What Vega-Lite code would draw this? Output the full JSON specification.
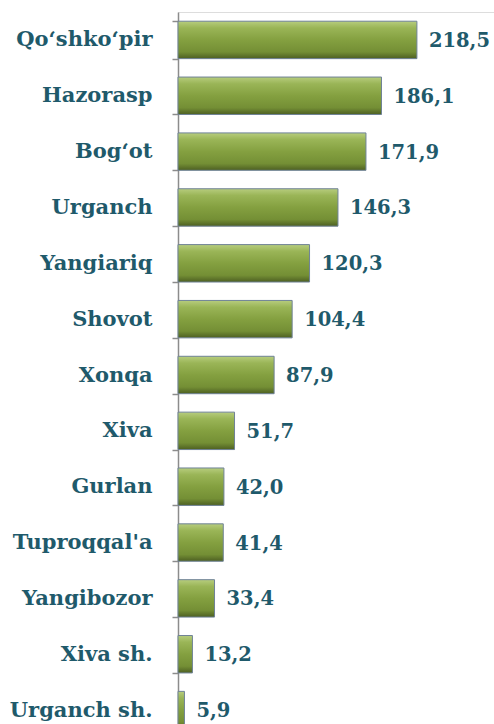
{
  "$schema": "https://vega.github.io/schema/vega-lite/v6.json",
  "autosize": "none",
  "padding": {"left": 178, "top": 12, "right": 0, "bottom": 0},
  "width": 316,
  "height": 726,
  "background": "white",
  "data": {"values": [
    {"district": "Qo‘shko‘pir", "value": 218.5, "label": "218,5"},
    {"district": "Hazorasp", "value": 186.1, "label": "186,1"},
    {"district": "Bog‘ot", "value": 171.9, "label": "171,9"},
    {"district": "Urganch", "value": 146.3, "label": "146,3"},
    {"district": "Yangiariq", "value": 120.3, "label": "120,3"},
    {"district": "Shovot", "value": 104.4, "label": "104,4"},
    {"district": "Xonqa", "value": 87.9, "label": "87,9"},
    {"district": "Xiva", "value": 51.7, "label": "51,7"},
    {"district": "Gurlan", "value": 42.0, "label": "42,0"},
    {"district": "Tuproqqal'a", "value": 41.4, "label": "41,4"},
    {"district": "Yangibozor", "value": 33.4, "label": "33,4"},
    {"district": "Xiva sh.", "value": 13.2, "label": "13,2"},
    {"district": "Urganch sh.", "value": 5.9, "label": "5,9"}
  ]},
  "encoding": {
    "y": {"field": "district", "type": "nominal", "sort": null,
      "scale": {"paddingInner": 0.33, "paddingOuter": 0.165},
      "axis": {"title": null, "domain": true, "domainColor": "#8c8c8c", "domainWidth": 1.5,
        "ticks": true, "tickBand": "extent", "tickColor": "#8c8c8c", "tickSize": 6, "tickWidth": 1.5,
        "labelPadding": 20, "labelFont": "DejaVu Serif", "labelFontSize": 21, "labelFontWeight": "bold",
        "labelColor": "#1f5a6b", "labelLimit": 0}},
    "x": {"field": "value", "type": "quantitative", "scale": {"domain": [0, 289]}, "axis": null}
  },
  "layer": [
    {"mark": {"type": "bar", "stroke": "#6f8296", "strokeWidth": 1,
      "color": {"gradient": "linear", "x1": 0, "y1": 0, "x2": 0, "y2": 1,
        "stops": [
          {"offset": 0, "color": "#b7cd7e"},
          {"offset": 0.18, "color": "#9ab557"},
          {"offset": 0.5, "color": "#84a040"},
          {"offset": 0.82, "color": "#748f35"},
          {"offset": 1, "color": "#4d5f22"}
        ]}}},
    {"mark": {"type": "text", "align": "left", "baseline": "middle", "dx": 12, "dy": 1,
      "font": "DejaVu Serif", "fontSize": 19.5, "fontWeight": "bold", "color": "#1f5a6b"},
     "encoding": {"text": {"field": "label"}}}
  ]
}
